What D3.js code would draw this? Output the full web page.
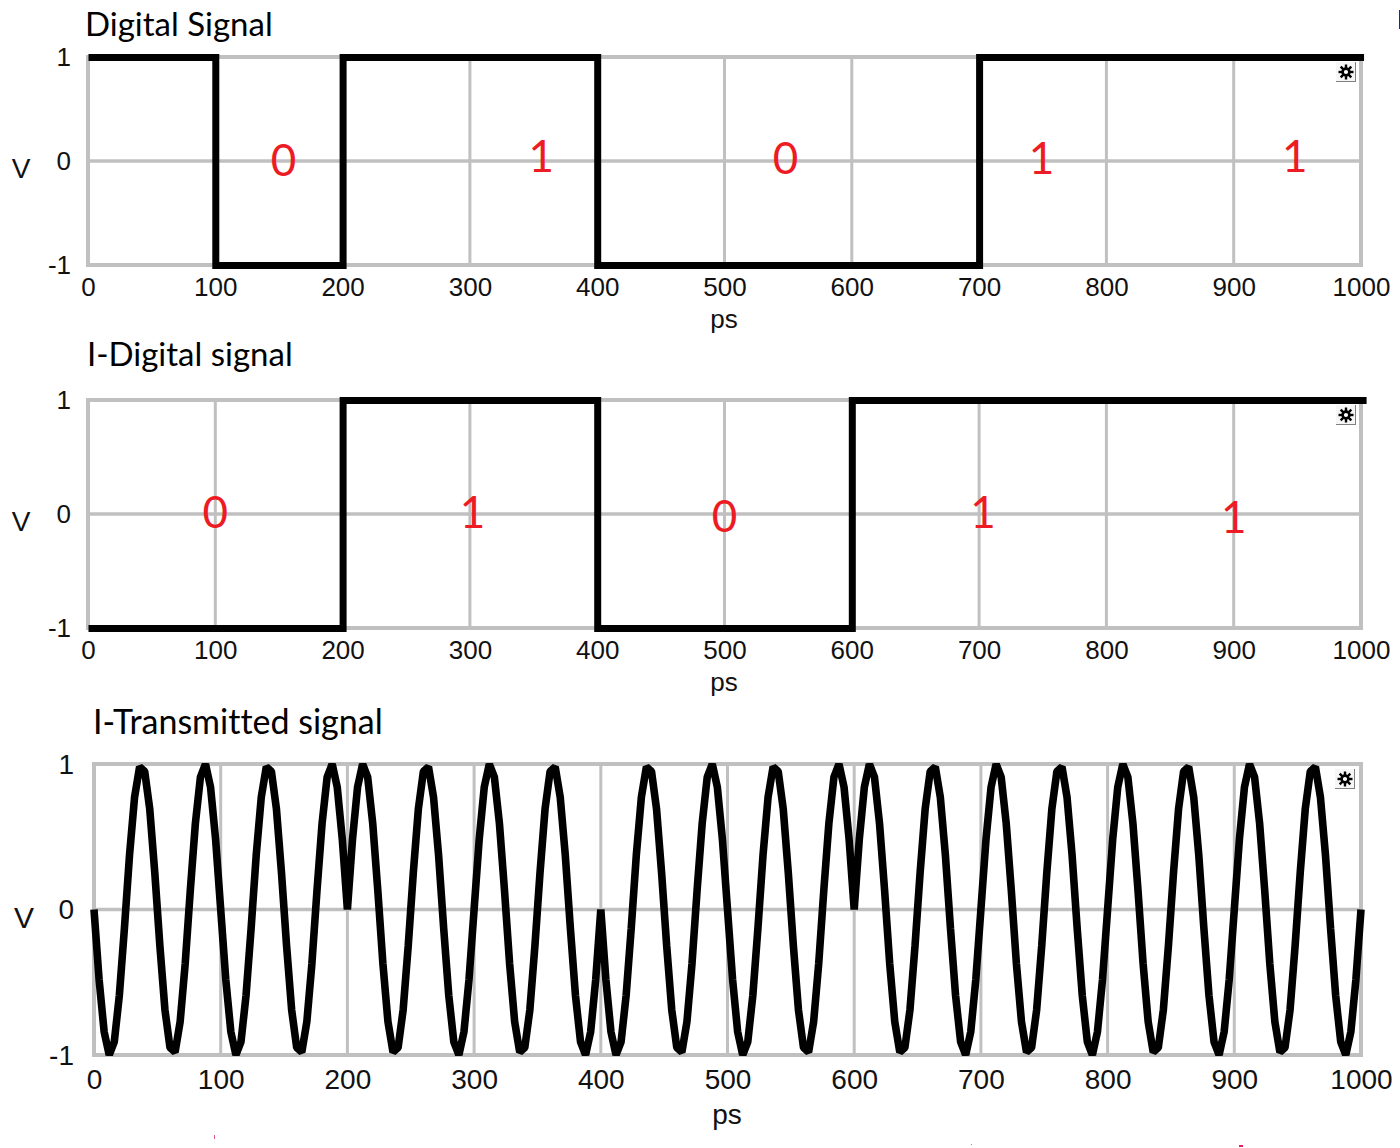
<!DOCTYPE html>
<html lang="en">
<head>
    <meta charset="UTF-8">
    <title>Digital and I-Transmitted Signals</title>
    <script src="https://d3js.org/d3.v7.min.js"></script>
    <style>
        html, body { margin: 0; padding: 0; background: #fff; }
        svg { display: block; }
        text { font-variant-ligatures: none; }
    </style>
</head>
<body>
    <script>
        // values
        var xTicks = [0, 100, 200, 300, 400, 500, 600, 700, 800, 900, 1000];
        var yTicks = [-1, 0, 1];

        // the black lines run slightly past 1000 in the picture
        var digitalTimes = [0, 100, 200, 400, 700, 1002];
        var digitalLevels = [1, -1, 1, -1, 1, 1];
        var digitalBits = ["0", "1", "0", "1", "1"];
        var digitalBitTimes = [153.5, 356, 548, 749, 948];
        var digitalBitLevels = [0.01, 0.05, 0.03, 0.03, 0.05];

        var iDigitalTimes = [0, 200, 400, 600, 1004];
        var iDigitalLevels = [-1, 1, -1, 1, 1];
        var iDigitalBits = ["0", "1", "0", "1", "1"];
        var iDigitalBitTimes = [100, 302, 500, 703, 900];
        var iDigitalBitLevels = [0.02, 0.02, -0.02, 0.02, -0.03];

        // one point every 4 ps, 0 to 1000
        var transmittedLevels = [
            0, -.48, -.84, -1, -.91, -.59, -.13, .37, .77, .98, .95, .69, .25, -.25, -.69, -.95, -.98, -.77, -.37, .13, .59, .91, 1, .84, .48,
            0, -.48, -.84, -1, -.91, -.59, -.13, .37, .77, .98, .95, .69, .25, -.25, -.69, -.95, -.98, -.77, -.37, .13, .59, .91, 1, .84, .48,
            0, .48, .84, 1, .91, .59, .13, -.37, -.77, -.98, -.95, -.69, -.25, .25, .69, .95, .98, .77, .37, -.13, -.59, -.91, -1, -.84, -.48,
            0, .48, .84, 1, .91, .59, .13, -.37, -.77, -.98, -.95, -.69, -.25, .25, .69, .95, .98, .77, .37, -.13, -.59, -.91, -1, -.84, -.48,
            0, -.48, -.84, -1, -.91, -.59, -.13, .37, .77, .98, .95, .69, .25, -.25, -.69, -.95, -.98, -.77, -.37, .13, .59, .91, 1, .84, .48,
            0, -.48, -.84, -1, -.91, -.59, -.13, .37, .77, .98, .95, .69, .25, -.25, -.69, -.95, -.98, -.77, -.37, .13, .59, .91, 1, .84, .48,
            0, .48, .84, 1, .91, .59, .13, -.37, -.77, -.98, -.95, -.69, -.25, .25, .69, .95, .98, .77, .37, -.13, -.59, -.91, -1, -.84, -.48,
            0, .48, .84, 1, .91, .59, .13, -.37, -.77, -.98, -.95, -.69, -.25, .25, .69, .95, .98, .77, .37, -.13, -.59, -.91, -1, -.84, -.48,
            0, .48, .84, 1, .91, .59, .13, -.37, -.77, -.98, -.95, -.69, -.25, .25, .69, .95, .98, .77, .37, -.13, -.59, -.91, -1, -.84, -.48,
            0, .48, .84, 1, .91, .59, .13, -.37, -.77, -.98, -.95, -.69, -.25, .25, .69, .95, .98, .77, .37, -.13, -.59, -.91, -1, -.84, -.48,
            0
        ];
        var transmittedTimes = transmittedLevels.map(function(d, i) { return i * 4; });

        var svgWidth = 1400;
        var svgHeight = 1148;
        var gridColor = "#c0c0c0";
        var axisFont = "'Liberation Sans', Arial, sans-serif";
        var noteFont = "Lato, sans-serif";

        var svg = d3.select("body")
                    .append("svg")
                    .attr("width", svgWidth)
                    .attr("height", svgHeight)
                    .attr("style", "background-color:#fff");

        function drawPanel(p, index) {
            var x = d3.scaleLinear().domain([0, 1000]).range([p.left, p.right]);
            var y = d3.scaleLinear().domain([-1, 1]).range([p.bottom, p.top]);
            var g = svg.append("g");

            // grid
            g.selectAll(".vgrid").data(xTicks).enter().append("line")
                .attr("x1", function(d) { return x(d); })
                .attr("x2", function(d) { return x(d); })
                .attr("y1", p.top).attr("y2", p.bottom)
                .attr("stroke", gridColor).attr("stroke-width", 3);
            g.selectAll(".hgrid").data(yTicks).enter().append("line")
                .attr("x1", p.left).attr("x2", p.right)
                .attr("y1", function(d) { return y(d); })
                .attr("y2", function(d) { return y(d); })
                .attr("stroke", gridColor).attr("stroke-width", 3.5);
            g.append("rect")
                .attr("x", p.left).attr("y", p.top)
                .attr("width", p.right - p.left).attr("height", p.bottom - p.top)
                .attr("fill", "none").attr("stroke", gridColor).attr("stroke-width", 4);

            // axes, lines are off because the grid already draws them
            var xAxis = g.append("g")
                .attr("transform", "translate(0," + p.bottom + ")")
                .call(d3.axisBottom(x).tickValues(xTicks).tickFormat(String).tickSize(0).tickPadding(p.xPad));
            var yAxis = g.append("g")
                .attr("transform", "translate(" + p.left + ",0)")
                .call(d3.axisLeft(y).tickValues(yTicks).tickFormat(String).tickSize(0).tickPadding(p.yPad));
            [xAxis, yAxis].forEach(function(a) {
                a.select(".domain").remove();
                a.selectAll("text")
                    .attr("font-family", axisFont)
                    .attr("font-size", p.fontSize)
                    .attr("fill", "#111");
            });
            yAxis.selectAll("text").attr("transform", "translate(0," + p.yShift + ")");

            g.append("text").attr("x", p.vX).attr("y", p.vY)
                .attr("text-anchor", "middle").attr("font-family", axisFont)
                .attr("font-size", p.fontSize + 2).attr("fill", "#111").text("V");
            g.append("text").attr("x", p.psX).attr("y", p.psY)
                .attr("text-anchor", "middle").attr("font-family", axisFont)
                .attr("font-size", p.fontSize).attr("fill", "#111").text("ps");
            g.append("text").attr("x", p.titleX).attr("y", p.titleY)
                .attr("font-family", noteFont).attr("font-size", p.titleSize)
                .attr("fill", "#000").text(p.title);

            // the signal is cut off at the frame when clipTop is set
            var clipId = "clip" + index;
            svg.append("clipPath").attr("id", clipId).append("rect")
                .attr("x", 0).attr("width", svgWidth)
                .attr("y", p.top - 30).attr("height", p.bottom - p.top + 60);
            if (p.clipTop) {
                svg.select("#" + clipId + " rect")
                    .attr("y", p.clipTop).attr("height", p.clipBottom - p.clipTop);
            }

            var line = d3.line()
                .x(function(d) { return x(d[0]); })
                .y(function(d) { return y(d[1]); })
                .curve(p.curve);
            g.append("g").attr("clip-path", "url(#" + clipId + ")")
                .append("path")
                .datum(d3.zip(p.times, p.levels))
                .attr("d", line)
                .attr("transform", "translate(" + p.lineShift + "," + p.lineShift + ")")
                .attr("fill", "none")
                .attr("stroke", "#000")
                .attr("stroke-width", p.lineWidth)
                .attr("stroke-linejoin", p.join);

            // bit labels
            if (p.bits) {
                g.selectAll(".bit").data(p.bits).enter().append("text")
                    .attr("x", function(d, i) { return x(p.bitTimes[i]); })
                    .attr("y", function(d, i) { return y(p.bitLevels[i]); })
                    .attr("dy", "0.36em")
                    .attr("text-anchor", "middle")
                    .attr("font-family", noteFont)
                    .attr("font-size", 44)
                    .attr("fill", "#ed1c24")
                    .text(function(d) { return d; });
            }

            // little settings button in the top right corner
            var btn = g.append("g").attr("transform", "translate(" + p.btnX + "," + p.btnY + ")");
            btn.append("rect").attr("x", -10).attr("y", -10).attr("width", 20).attr("height", 20).attr("fill", "#808080");
            btn.append("rect").attr("x", -10).attr("y", -10).attr("width", 19).attr("height", 19).attr("fill", "#f6f6f6");
            [0, 45, 90, 135].forEach(function(a) {
                btn.append("line")
                    .attr("x1", -7.5).attr("x2", 7.5).attr("y1", 0).attr("y2", 0)
                    .attr("transform", "rotate(" + a + ")")
                    .attr("stroke", "#000").attr("stroke-width", 2.4);
            });
            btn.append("circle").attr("r", 3.4)
                .attr("fill", "#fff").attr("stroke", "#000").attr("stroke-width", 2.6);
        }

        drawPanel({
            title: "Digital Signal", titleX: 85, titleY: 36, titleSize: 33,
            left: 88, right: 1361, top: 57, bottom: 265,
            times: digitalTimes, levels: digitalLevels, curve: d3.curveStepAfter,
            lineWidth: 7, lineShift: 0.5, join: "miter", xPad: 13, yPad: 17, yShift: 0, fontSize: 26,
            bits: digitalBits, bitTimes: digitalBitTimes, bitLevels: digitalBitLevels,
            vX: 21, vY: 178, psX: 724, psY: 328, btnX: 1346, btnY: 72
        }, 0);
        drawPanel({
            title: "I-Digital signal", titleX: 87, titleY: 366, titleSize: 33,
            left: 88, right: 1361, top: 400, bottom: 628,
            times: iDigitalTimes, levels: iDigitalLevels, curve: d3.curveStepAfter,
            lineWidth: 7, lineShift: 0.5, join: "miter", xPad: 13, yPad: 17, yShift: 0, fontSize: 26,
            bits: iDigitalBits, bitTimes: iDigitalBitTimes, bitLevels: iDigitalBitLevels,
            vX: 21, vY: 531, psX: 724, psY: 691, btnX: 1346, btnY: 415
        }, 1);
        drawPanel({
            title: "I-Transmitted signal", titleX: 93, titleY: 734, titleSize: 34,
            left: 94, right: 1361, top: 764, bottom: 1055,
            times: transmittedTimes, levels: transmittedLevels, curve: d3.curveLinear,
            lineWidth: 7.6, lineShift: 0, join: "bevel", xPad: 14, yPad: 20, yShift: 0.5, fontSize: 28,
            clipTop: 763, clipBottom: 1056,
            vX: 24, vY: 928, psX: 727, psY: 1124, btnX: 1345, btnY: 779
        }, 2);

        // stray marks in the picture: dark bar at the right edge, specks along the bottom
        svg.append("rect").attr("x", 1399).attr("y", 10).attr("width", 1).attr("height", 19).attr("fill", "#1f2f5f");
        svg.append("rect").attr("x", 214).attr("y", 1135).attr("width", 1).attr("height", 4).attr("fill", "#e8508a");
        svg.append("rect").attr("x", 971).attr("y", 1144).attr("width", 1).attr("height", 1).attr("fill", "#e87830");
        svg.append("rect").attr("x", 1239).attr("y", 1145).attr("width", 4).attr("height", 2).attr("fill", "#e8205a");
    </script>
</body>
</html>
